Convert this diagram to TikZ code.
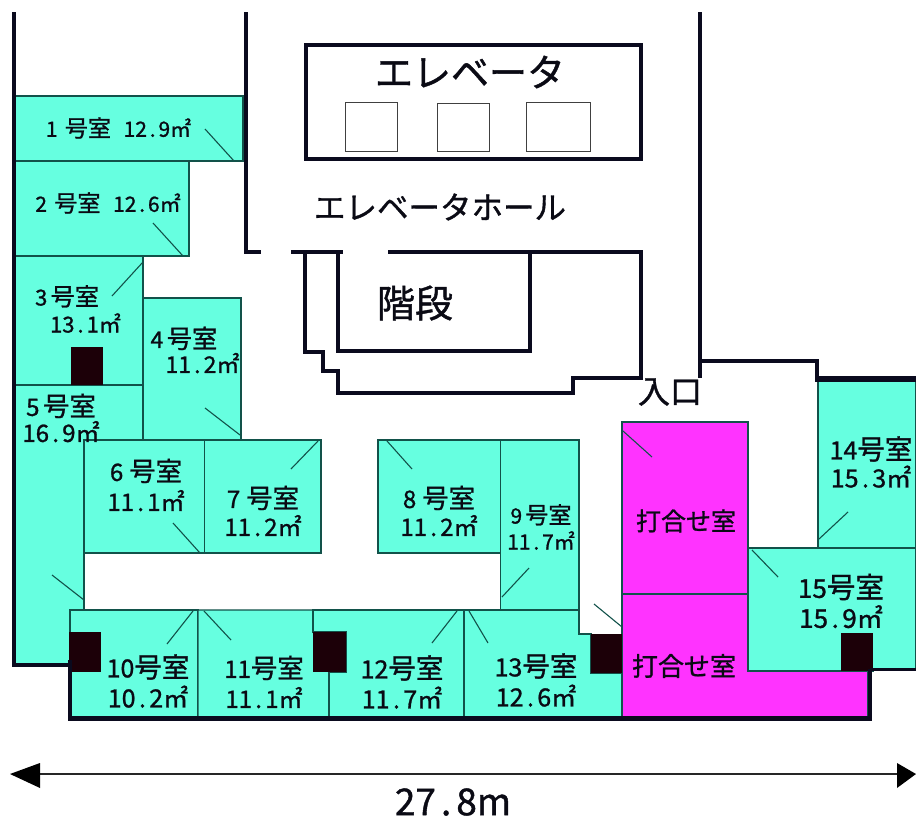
\documentclass[tikz,border=0pt]{standalone}
\usepackage{fontspec}
\usepackage{graphicx}
\setmainfont{Noto Sans CJK JP}[FakeBold=1.1]
\definecolor{roomteal}{HTML}{66FFE0}
\definecolor{roommag}{HTML}{FF33FF}
\definecolor{thinedge}{HTML}{12524A}
\definecolor{wallc}{HTML}{0A0A1E}
\definecolor{pillarc}{HTML}{1C0008}
\definecolor{inkc}{HTML}{0A0A14}
\newcommand\dt{\makebox[.55em][c]{.}}
\newcommand\gs{\scalebox{1.1}{号室}}
\newcommand\szb[2]{\fontsize{#1}{#2}\selectfont}
\newcommand\sz[1]{\fontsize{#1}{#1}\selectfont}
\tikzset{
  x=1pt,y=-1pt,
  room/.style={fill=roomteal,draw=thinedge,line width=1.1pt},
  meet/.style={fill=roommag,draw=thinedge,line width=1.1pt},
  door/.style={draw=thinedge,line width=1.1pt},
  wall/.style={draw=wallc,line width=4pt,miter limit=10},
  pillar/.style={fill=pillarc,draw=none},
  lift/.style={draw=black!75,line width=1pt},
  lbl/.style={inner sep=0pt,align=center,text=inkc},
  lblleft/.style={inner sep=0pt,align=left,text=inkc},
}
\begin{document}
\begin{tikzpicture}
\useasboundingbox (0,0) rectangle (916,819);
\fill[white] (0,0) rectangle (916,819);
% ---- rooms
\path[room] (15,96) rectangle (243,161);
\path[room] (15,161) rectangle (189,256);
\path[room] (15,256) rectangle (143,385);
\path[room] (143,298) rectangle (241,440);
\path[room] (15,385) -- (143,385) -- (143,440) -- (84,440) -- (84,632) -- (70,632) -- (70,665) -- (15,665) -- cycle;
\path[room] (84,440) rectangle (204.5,553);
\path[room] (204.5,440) rectangle (321,553);
\path[room] (378,440) rectangle (500.5,553);
\path[room] (500.5,440) -- (579,440) -- (579,609.5) -- (500.5,609.5) -- cycle;
\path[room] (70,610) -- (198,610) -- (198,717) -- (70,717) -- cycle;
\path[room] (198,610) -- (313,610) -- (313,632) -- (329,672) -- (329,717) -- (198,717) -- cycle;
\path[fill=roomteal] (313,611) rectangle (329,672);
\path[room] (313,610) -- (464,610) -- (464,717) -- (329,717) -- (329,672) -- (346,672) -- (346,632) -- (313,632) -- cycle;
\path[room] (464,610) -- (579,610) -- (579,634) -- (591,634) -- (591,673) -- (622,673) -- (622,717) -- (464,717) -- cycle;
\path[room] (818,380) rectangle (916,548);
\path[room] (748,548) -- (916,548) -- (916,669) -- (873,669) -- (873,671) -- (748,671) -- cycle;
\path[meet] (622,422) rectangle (748,594);
\path[meet] (622,594) -- (748,594) -- (748,671) -- (868,671) -- (868,717) -- (622,717) -- cycle;
% ---- door swings
\draw[door] (205,129) -- (234,161);
\draw[door] (153,223) -- (183,256);
\draw[door] (112,296) -- (143,262);
\draw[door] (205,408) -- (240,435);
\draw[door] (52,575) -- (84,600);
\draw[door] (173,523) -- (200,553);
\draw[door] (291,469) -- (318,441);
\draw[door] (387,441) -- (412,469);
\draw[door] (529,568) -- (502,597);
\draw[door] (167,644) -- (193,611);
\draw[door] (204,611) -- (231,640);
\draw[door] (432,643) -- (457,611);
\draw[door] (469,611) -- (488,643);
\draw[door] (594,604) -- (622,627);
\draw[door] (623,431) -- (652,457);
\draw[door] (848,512) -- (819,539);
\draw[door] (752,550) -- (778,577);
% ---- pillars
\fill[pillar] (71,347) rectangle (103,385);
\fill[pillar] (69,632) rectangle (101,672);
\fill[pillar] (313,632) rectangle (346,672);
\fill[pillar] (591,634) rectangle (622,673);
\fill[pillar] (841,633) rectangle (873,671);
% ---- walls
\draw[wall] (13.5,12) -- (13.5,665) -- (70,665);
\draw[wall,line width=4.6pt] (70,660) -- (70,718.5) -- (870,718.5) -- (870,669);
\draw[wall,line width=3pt] (870,669) -- (916,669);
\draw[wall] (245.5,12) -- (245.5,252) -- (261,252);
\draw[wall] (291,252) -- (343,252);
\draw[wall] (388,252) -- (641,252) -- (641,378) -- (573,378) -- (573,393) -- (338,393) -- (338,371) -- (323,371) -- (323,352) -- (305,352) -- (305,252);
\draw[wall] (338,252) -- (338,351) -- (530,351) -- (530,252);
\draw[wall] (700,12) -- (700,378);
\draw[wall] (700,361) -- (817,361) -- (817,379);
\draw[wall,line width=5.4pt] (815,379) -- (916,379);
\draw[wall] (306,45) rectangle (641,159);
\draw[lift] (345,102) rectangle (397,151);
\draw[lift] (437,103) rectangle (489,151);
\draw[lift] (526,102) rectangle (590,151);
% ---- dimension arrow
\draw[draw=black!85,line width=2pt] (35,774) -- (900,774);
\fill[black] (10,774) -- (40,763) -- (40,788) -- cycle;
\fill[black] (916,774) -- (897,763) -- (897,788) -- cycle;
% ---- labels
\node[lbl,font=\sz{21}] (r1) at (118.5,128) {1\hspace{.35em}\gs\hspace{.6em}12\dt 9㎡};
\node[lbl,font=\sz{21}] (r2) at (108,203) {2\hspace{.35em}\gs\hspace{.6em}12\dt 6㎡};
\node[lblleft,font=\szb{22}{27}] (r3) at (78,309) {3\hspace{.15em}\gs\\\mbox{}\hspace{.68em}13\dt 1㎡};
\node[lblleft,font=\szb{23}{25}] (r4) at (195,350) {4\hspace{.15em}\gs\\\mbox{}\hspace{.65em}11\dt 2㎡};
\node[lbl,font=\szb{24}{26}] (r5) at (61,418) {5\hspace{.15em}\gs\\16\dt 9㎡};
\node[lbl,font=\szb{24}{30}] (r6) at (146,485) {6\hspace{.25em}\gs\\11\dt 1㎡};
\node[lbl,font=\szb{24}{28}] (r7) at (263,511) {7\hspace{.25em}\gs\\11\dt 2㎡};
\node[lbl,font=\szb{24}{28}] (r8) at (439,511) {8\hspace{.25em}\gs\\11\dt 2㎡};
\node[lbl,font=\szb{21}{26}] (r9) at (541,527) {9\hspace{.15em}\gs\\11\dt 7㎡};
\node[lbl,font=\szb{25}{30}] (r10) at (148,681) {10\gs\\10\dt 2㎡};
\node[lbl,font=\szb{24}{30}] (r11) at (264,682) {11\gs\\11\dt 1㎡};
\node[lbl,font=\szb{25}{30}] (r12) at (402,682) {12\gs\\11\dt 7㎡};
\node[lbl,font=\szb{25}{30}] (r13) at (536,680) {13\gs\\12\dt 6㎡};
\node[lbl,font=\szb{25}{28}] (r14) at (871,462) {14\gs\\15\dt 3㎡};
\node[lbl,font=\szb{26}{30}] (r15) at (841,601) {15\gs\\15\dt 9㎡};
\node[lbl,font=\sz{25}] (m1) at (686,521) {打合せ室};
\node[lbl,font=\sz{26}] (m2) at (684,666) {打合せ室};
\node[lbl,font=\sz{32}] (ent) at (670,392) {入口};
\node[lbl,font=\sz{38}] (ev) at (470,72) {エレベータ};
\node[lbl,font=\sz{31.5}] (hall) at (440,207) {エレベータホール};
\node[lbl,font=\sz{38}] (st) at (415,303) {階段};
\node[lbl,font=\sz{37}] (dim) at (453,802) {27\dt 8m};
\end{tikzpicture}
\end{document}
